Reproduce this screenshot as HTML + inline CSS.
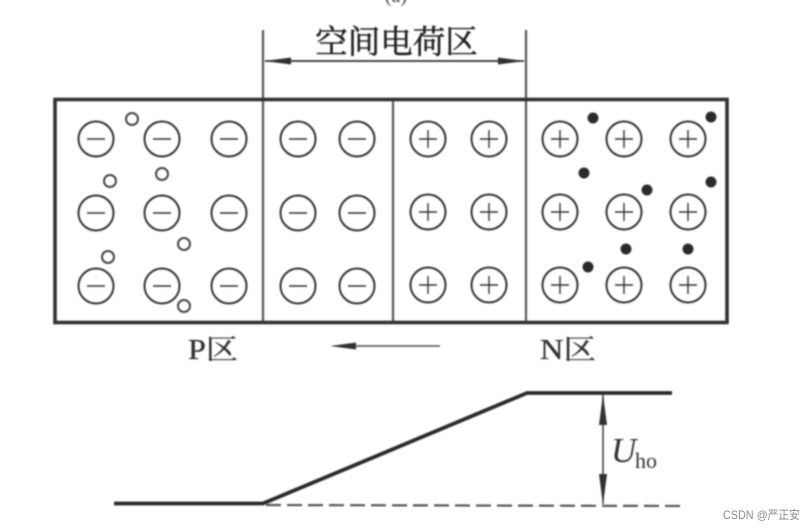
<!DOCTYPE html>
<html>
<head>
<meta charset="utf-8">
<style>
html,body{margin:0;padding:0;background:#fff;}
svg{display:block;}
</style>
</head>
<body>
<svg width="808" height="532" viewBox="0 0 808 532" xmlns="http://www.w3.org/2000/svg">
<defs>
<filter id="b" x="-5%" y="-5%" width="110%" height="110%"><feGaussianBlur stdDeviation="0.7"/></filter>
</defs>
<rect width="808" height="532" fill="#fff"/>
<g filter="url(#b)">
<!-- clipped caption -->
<text x="396" y="2" text-anchor="middle" font-family="'Liberation Serif',serif" font-size="20" fill="#444">(a)</text>

<!-- dimension -->
<g stroke="#555" fill="none">
<line x1="263" y1="30" x2="263" y2="322" stroke-width="2.2"/>
<line x1="526" y1="30" x2="526" y2="322" stroke-width="2.2"/>
<line x1="393" y1="99" x2="393" y2="322" stroke-width="2.2"/>
<line x1="265" y1="61" x2="524" y2="61" stroke="#333" stroke-width="1.7"/>
</g>
<polygon points="264,61 291,57.5 291,64.5" fill="#333"/>
<polygon points="525,61 498,57.5 498,64.5" fill="#333"/>
<text x="396.5" y="53" text-anchor="middle" font-family="'Liberation Serif','Noto Serif CJK SC',serif" font-size="32.5" fill="#222" stroke="#222" stroke-width="0.5">空间电荷区</text>

<!-- box -->
<rect x="55" y="99.5" width="672" height="223" fill="none" stroke="#333" stroke-width="3.6"/>

<!-- negative ions -->
<g fill="none" stroke="#333" stroke-width="2">
<circle cx="96" cy="139" r="17.5"/><circle cx="162" cy="139" r="17.5"/><circle cx="229" cy="139" r="17.5"/><circle cx="298" cy="139" r="17.5"/><circle cx="357" cy="139" r="17.5"/>
<circle cx="96" cy="213" r="17.5"/><circle cx="162" cy="213" r="17.5"/><circle cx="229" cy="213" r="17.5"/><circle cx="298" cy="213" r="17.5"/><circle cx="357" cy="213" r="17.5"/>
<circle cx="96" cy="286" r="17.5"/><circle cx="162" cy="286" r="17.5"/><circle cx="229" cy="286" r="17.5"/><circle cx="298" cy="286" r="17.5"/><circle cx="357" cy="286" r="17.5"/>
<path stroke-width="1.5" d="M87 139h18M153 139h18M220 139h18M289 139h18M348 139h18M87 213h18M153 213h18M220 213h18M289 213h18M348 213h18M87 286h18M153 286h18M220 286h18M289 286h18M348 286h18"/>
</g>

<!-- holes -->
<g fill="none" stroke="#444" stroke-width="2">
<circle cx="132" cy="119" r="6"/><circle cx="110" cy="181" r="6"/><circle cx="162" cy="174" r="6"/>
<circle cx="184" cy="244" r="6"/><circle cx="108" cy="257" r="6"/><circle cx="184" cy="306" r="6"/>
</g>

<!-- positive ions -->
<g fill="none" stroke="#333" stroke-width="2">
<circle cx="428" cy="139" r="17.5"/><circle cx="489" cy="139" r="17.5"/><circle cx="560" cy="139" r="17.5"/><circle cx="624" cy="139" r="17.5"/><circle cx="688" cy="139" r="17.5"/>
<circle cx="428" cy="212" r="17.5"/><circle cx="489" cy="212" r="17.5"/><circle cx="560" cy="212" r="17.5"/><circle cx="624" cy="212" r="17.5"/><circle cx="688" cy="212" r="17.5"/>
<circle cx="428" cy="285" r="17.5"/><circle cx="489" cy="285" r="17.5"/><circle cx="560" cy="285" r="17.5"/><circle cx="624" cy="285" r="17.5"/><circle cx="688" cy="285" r="17.5"/>
<path stroke-width="1.4" d="M419 139h18M428 130v18M480 139h18M489 130v18M551 139h18M560 130v18M615 139h18M624 130v18M679 139h18M688 130v18
M419 212h18M428 203v18M480 212h18M489 203v18M551 212h18M560 203v18M615 212h18M624 203v18M679 212h18M688 203v18
M419 285h18M428 276v18M480 285h18M489 276v18M551 285h18M560 276v18M615 285h18M624 276v18M679 285h18M688 276v18"/>
</g>

<!-- electrons -->
<g fill="#2a2a2a">
<circle cx="593" cy="118" r="5.5"/><circle cx="711" cy="117" r="5.5"/><circle cx="584" cy="173" r="5.5"/>
<circle cx="647" cy="190" r="5.5"/><circle cx="711" cy="182" r="5.5"/><circle cx="626" cy="249" r="5.5"/>
<circle cx="688" cy="249" r="5.5"/><circle cx="588" cy="267" r="5.5"/>
</g>

<!-- labels -->
<text x="188" y="359" font-family="'Liberation Serif','Noto Serif CJK SC',serif" font-size="28" fill="#333" stroke="#333" stroke-width="0.3" textLength="50" lengthAdjust="spacingAndGlyphs">P区</text>
<text x="540" y="359" font-family="'Liberation Serif','Noto Serif CJK SC',serif" font-size="28" fill="#333" stroke="#333" stroke-width="0.3" textLength="56" lengthAdjust="spacingAndGlyphs">N区</text>

<!-- field arrow -->
<line x1="345" y1="346" x2="440" y2="346" stroke="#666" stroke-width="1.8"/>
<polygon points="330,346 356,342.5 356,349.5" fill="#333"/>

<!-- potential curve -->
<polyline points="114,503.5 263,503.5 527,393 672,393" fill="none" stroke="#2a2a2a" stroke-width="3.8"/>
<line x1="266" y1="505" x2="682" y2="506" stroke="#555" stroke-width="2.2" stroke-dasharray="15 6"/>

<!-- Uho -->
<line x1="603" y1="395" x2="603" y2="504" stroke="#444" stroke-width="1.6"/>
<polygon points="603,394 599,425 607,425" fill="#333"/>
<polygon points="603,505 599,474 607,474" fill="#333"/>
<text x="611" y="462" font-family="'Liberation Serif',serif" font-style="italic" font-size="35" fill="#333">U</text>
<text x="635" y="468" font-family="'Liberation Serif',serif" font-size="22" fill="#333">ho</text>
</g>

<!-- watermark -->
<text x="723" y="519" font-family="'Liberation Sans','Noto Sans CJK SC',sans-serif" font-size="12" fill="#8a8a8a" textLength="77" lengthAdjust="spacingAndGlyphs">CSDN @严正安</text>
</svg>
</body>
</html>
